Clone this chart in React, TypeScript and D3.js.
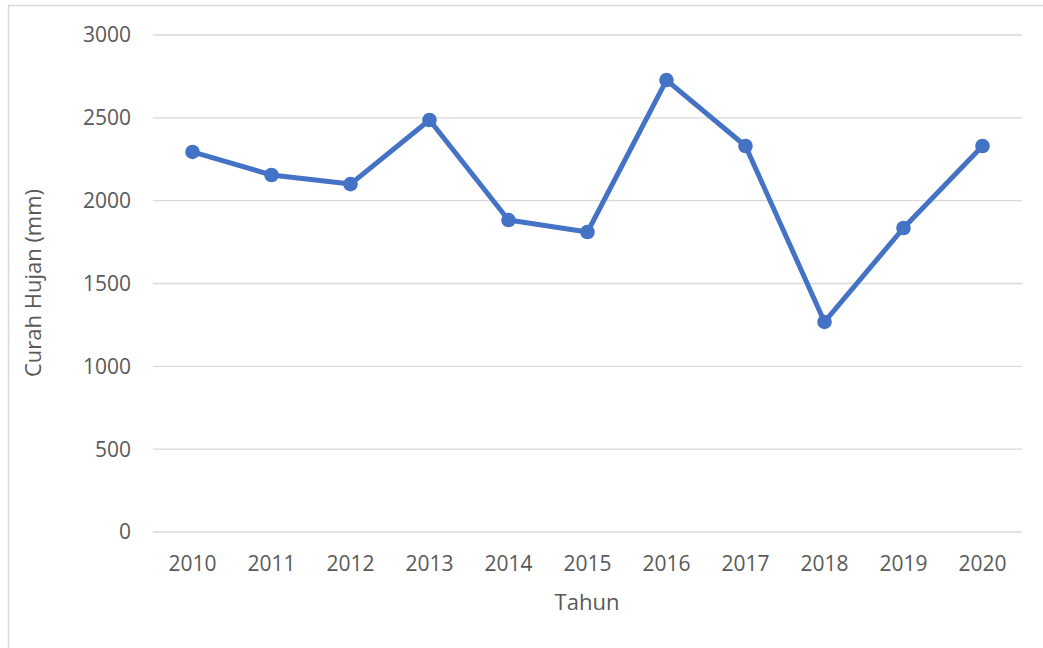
import React from "react";
import * as d3 from "d3";

const years = ["2010","2011","2012","2013","2014","2015","2016","2017","2018","2019","2020"];
const rainfall = [2294, 2155, 2100, 2487, 1883, 1811, 2728, 2330, 1268, 1835, 2330];
const yTicks = [0, 500, 1000, 1500, 2000, 2500, 3000];

export default function App() {
  const W = 1043, H = 648;
  const left = 153, right = 1022, top = 35, bottom = 532;
  const x = d3.scalePoint<string>().domain(years).range([left, right]).padding(0.5);
  const y = d3.scaleLinear().domain([0, 3000]).range([bottom, top]);
  const line = d3.line<number>().x((_, i) => x(years[i])!).y(d => y(d));
  const font = "'Open Sans', sans-serif";
  const txt = "#595959";
  return (
    <svg width={W} height={H} style={{ position: "absolute", left: 0, top: 0, background: "#fff" }}>
      <rect x={8.5} y={5.5} width={W} height={H} fill="#fff" stroke="#d9d9d9" strokeWidth={1.5} />
      {yTicks.map(t => (
        <g key={t}>
          <line x1={left} x2={right} y1={y(t)} y2={y(t)} stroke="#d9d9d9" strokeWidth={1.3} />
          <text x={131} y={y(t)} dy="0.35em" textAnchor="end" fontFamily={font} fontSize={21} fill={txt}>{t}</text>
        </g>
      ))}
      {years.map(yr => (
        <text key={yr} x={x(yr)} y={564} dy="0.35em" textAnchor="middle" fontFamily={font} fontSize={21} fill={txt}>{yr}</text>
      ))}
      <path d={line(rainfall)!} fill="none" stroke="#4472C4" strokeWidth={5} strokeLinejoin="round" />
      {rainfall.map((v, i) => (
        <circle key={i} cx={x(years[i])} cy={y(v)} r={7.3} fill="#4472C4" />
      ))}
      <text x={587} y={602} dy="0.35em" textAnchor="middle" fontFamily={font} fontSize={22} fill={txt}>Tahun</text>
      <text transform={`translate(33,283) rotate(-90)`} dy="0.35em" textAnchor="middle" fontFamily={font} fontSize={22} fill={txt}>Curah Hujan (mm)</text>
    </svg>
  );
}
